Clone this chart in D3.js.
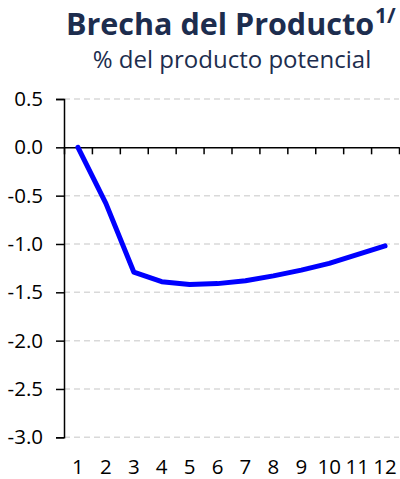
<!DOCTYPE html>
<html>
<head>
<meta charset="utf-8">
<script src="https://cdn.jsdelivr.net/npm/d3@7"></script>
<style>
  html, body { margin: 0; padding: 0; background: #fff; }
  svg { display: block; }
  text { font-family: "Open Sans", sans-serif; }
</style>
</head>
<body>
<svg id="chart" width="400" height="479"></svg>
<script>
// Quarters after the shock and the output gap (% of potential output)
const periods = ["1", "2", "3", "4", "5", "6", "7", "8", "9", "10", "11", "12"];
const outputGap = [0.0, -0.58, -1.29, -1.39, -1.42, -1.41, -1.38, -1.33, -1.27, -1.20, -1.11, -1.02];
const yTicks = [0.5, 0.0, -0.5, -1.0, -1.5, -2.0, -2.5, -3.0];

const svg = d3.select("#chart");
const plotLeft = 64, plotRight = 399, plotTop = 99, plotBottom = 437.3;

const x = d3.scaleBand().domain(periods).range([plotLeft, plotRight]);
const y = d3.scaleLinear().domain([-3.0, 0.5]).range([plotBottom, plotTop]);

// Title
const title = svg.append("text")
  .attr("x", 66).attr("y", 35)
  .attr("fill", "#1d2d4e")
  .attr("font-weight", "bold")
  .attr("font-size", 30.5);
title.append("tspan").text("Brecha del Producto");
title.append("tspan").attr("font-size", 21).attr("dy", -12).attr("dx", 1).text("1/");

svg.append("text")
  .attr("x", 232).attr("y", 68)
  .attr("text-anchor", "middle")
  .attr("fill", "#1d2d4e")
  .attr("font-size", 24)
  .text("% del producto potencial");

// Dashed gridlines (every tick except zero, where the x axis sits)
svg.append("g")
  .selectAll("line")
  .data(yTicks.filter(d => d !== 0))
  .join("line")
  .attr("x1", plotLeft).attr("x2", plotRight)
  .attr("y1", d => y(d)).attr("y2", d => y(d))
  .attr("stroke", "#d9d9d9")
  .attr("stroke-width", 1.5)
  .attr("stroke-dasharray", "6,4");

// Y axis
const yAxis = svg.append("g")
  .attr("transform", `translate(${plotLeft},0)`)
  .call(d3.axisLeft(y).tickValues(yTicks).tickSize(8).tickPadding(13));
yAxis.select(".domain").attr("stroke", "#000").attr("stroke-width", 1.5);
yAxis.selectAll(".tick line").attr("stroke", "#000").attr("stroke-width", 1.5);
yAxis.selectAll("text")
  .attr("font-family", "Open Sans, sans-serif")
  .attr("font-size", 20.5)
  .attr("fill", "#000")
  .text(d => d.toFixed(1));

// X axis at zero with ticks on the category boundaries
const boundaries = d3.range(periods.length + 1);
const xb = d3.scaleLinear().domain([0, periods.length]).range([plotLeft, plotRight]);
const xAxis = svg.append("g")
  .attr("transform", `translate(0,${y(0)})`)
  .call(d3.axisBottom(xb).tickValues(boundaries).tickSize(7).tickSizeOuter(0).tickFormat(""));
xAxis.select(".domain").attr("stroke", "#000").attr("stroke-width", 1.5);
xAxis.selectAll(".tick line").attr("stroke", "#000").attr("stroke-width", 1.5);

// Category labels along the bottom
const xLabels = svg.append("g")
  .attr("transform", `translate(0,${plotBottom + 22})`)
  .call(d3.axisBottom(x).tickSize(0).tickPadding(0));
xLabels.select(".domain").remove();
xLabels.selectAll("text")
  .attr("font-family", "Open Sans, sans-serif")
  .attr("font-size", 20.5)
  .attr("fill", "#000");

// Output gap line
const line = d3.line()
  .x((d, i) => x(periods[i]) + x.bandwidth() / 2)
  .y(d => y(d));
svg.append("path")
  .datum(outputGap)
  .attr("d", line)
  .attr("fill", "none")
  .attr("stroke", "#0000ff")
  .attr("stroke-width", 5)
  .attr("stroke-linejoin", "round")
  .attr("stroke-linecap", "round");
</script>
</body>
</html>
